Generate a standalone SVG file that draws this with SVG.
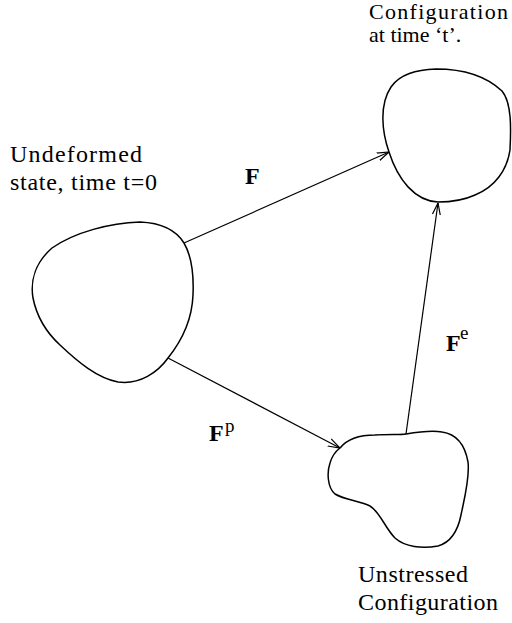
<svg xmlns="http://www.w3.org/2000/svg" width="512" height="623" viewBox="0 0 512 623" font-family="Liberation Serif, Times New Roman, Nimbus Roman, FreeSerif, Tinos, DejaVu Serif, serif">
<style>
.blob{fill:none;stroke:#000;stroke-width:1.5}
.conn{fill:none;stroke:#000;stroke-width:1.2}
.t{font-size:24px}
.tt{font-size:22px}
.b{font-size:24px;font-weight:bold}
.s{font-size:19px}
</style>
<defs>
<marker id="arr" viewBox="0 0 12 10" refX="12" refY="5" markerWidth="12" markerHeight="10" markerUnits="userSpaceOnUse" orient="auto">
<path d="M0,1 L12,5 L0,9" fill="none" stroke="#000" stroke-width="1.2"/>
</marker>
</defs>
<rect width="512" height="623" fill="#fff"/>
<g id="undeformed">
<path class="blob" d="M184,243 C176,230 163,223 140,222 C110,223 75,232 52,248 C36,262 30,280 33,298 C37,318 47,333 60,345 C78,362 97,378 118,382 C140,385 158,372 168,358 C180,343 192,322 193,295 C194,272 191,255 184,243 Z"/>
<text class="t" x="10" y="162" textLength="132">Undeformed</text>
<text class="t" x="10" y="190" textLength="147">state, time t=0</text>
</g>
<g id="current">
<path class="blob" d="M389,152 C382,132 379,105 391,87 C400,74 416,70 436,69 C462,69 486,76 502,91 C512,103 511,130 510,150 C507,170 495,187 475,195 C462,201 450,202 438,202 C415,201 398,180 389,152 Z"/>
<text class="tt" x="369" y="19" textLength="139">Configuration</text>
<text class="tt" x="369" y="42">at time ‘t’.</text>
</g>
<g id="unstressed">
<path class="blob" d="M340,448 C348,438 360,435 375,435 C390,434 400,435 406,434 C418,432 430,430 442,432 C456,434 465,445 468,462 C470,478 464,500 461,515 C458,530 452,542 438,546 C422,549 405,547 395,538 C385,528 380,512 370,506 C360,501 345,500 335,494 C327,487 327,472 330,463 C332,456 336,451 340,448 Z"/>
<text class="t" x="358" y="582" textLength="110">Unstressed</text>
<text class="t" x="358" y="610" textLength="140">Configuration</text>
</g>
<g id="connectors">
<line class="conn" x1="184" y1="243" x2="389" y2="152" marker-end="url(#arr)"/>
<line class="conn" x1="168" y1="358" x2="340" y2="448" marker-end="url(#arr)"/>
<line class="conn" x1="406" y1="434" x2="438" y2="203" marker-end="url(#arr)"/>
<text class="b" x="245" y="184">F</text>
<text class="b" x="209" y="441">F</text><text class="s" x="225" y="432">p</text>
<text class="b" x="446" y="351">F</text><text class="s" x="460" y="339">e</text>
</g>
</svg>
